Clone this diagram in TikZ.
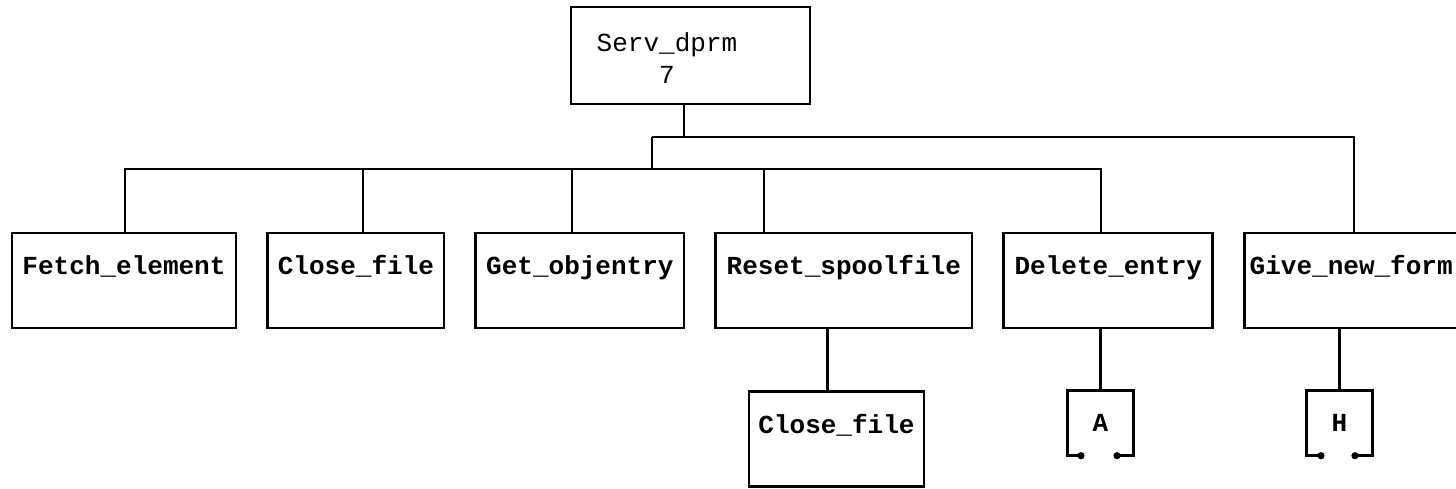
\documentclass[tikz,border=0pt]{standalone}
\usepackage{fontspec}
\setmonofont{Liberation Mono}
\usetikzlibrary{arrows.meta, positioning, calc}

\begin{document}
\begin{tikzpicture}[
    x=0.01cm, y=-0.01cm,
    node distance=0.29cm,
    box/.style={rectangle, draw, line width=0.8pt, inner xsep=0.05cm, inner ysep=0pt, text height=0.42cm, text depth=0.53cm, font=\ttfamily\bfseries\fontsize{7.4}{9}\selectfont},
    flag/.style={rectangle, minimum width=0.65cm, minimum height=0.64cm, inner sep=0pt, font=\ttfamily\bfseries\fontsize{7.4}{9}\selectfont},
    wire/.style={line width=0.7pt},
    offpage/.style={{Circle[length=0.7mm]}-{Circle[length=0.7mm]}, line width=0.8pt}
]
\useasboundingbox (0,0) rectangle (1456,489);

\node[draw, line width=0.8pt, minimum width=2.39cm, minimum height=0.97cm] (serv) at (690.5,55.5) {};
\node[font=\ttfamily\fontsize{7.4}{9.1}\selectfont, align=center] (servname) at (667,58) {Serv\_dprm\\7};

\node[box, minimum width=2.24cm] (fetch) at (124,280.5) {Fetch\_element};
\node[box, minimum width=1.76cm, right=of fetch] (closeA) {Close\_file};
\node[box, minimum width=2.08cm, right=of closeA] (getobj) {Get\_objentry};
\node[box, minimum width=2.56cm, right=of getobj] (reset) {Reset\_spoolfile};
\node[box, minimum width=2.09cm, right=of reset] (delete) {Delete\_entry};
\node[box, text width=2.23cm, align=left, right=of delete] (give) {Give\_new\_form};

\node[box, minimum width=1.75cm] (closeB) at (836.5,439) {Close\_file};
\node[flag] (abox) at (1100.5,423) {A};
\node[flag] (hbox) at (1339.5,423) {H};

\coordinate (hiL) at (652,137);
\coordinate (hiR) at (1354,137);
\coordinate (loL) at (125,169);
\coordinate (loR) at (1100,169);

\draw[wire] ($(serv.south)+(-6.5,0)$) -- ++(0,33);
\draw[wire] (hiL) -- (hiR) -- (hiR |- give.north);
\draw[wire] (hiL) -- (loL -| hiL);
\draw[wire] (loL) -- (loR);
\foreach \n/\dx in {fetch/1, closeA/7, getobj/-8, reset/-80, delete/-7.5}
  \draw[wire] ($(\n.north)+(\dx,0)$) -- ++(0,-64);

\draw[wire] ($(reset.south west)+(113,0)$) -- ++(0,63);
\draw[wire] (abox.north |- delete.south) -- (abox.north);
\draw[wire] (hbox.north |- give.south) -- (hbox.north);

\draw[offpage] ($(abox.south)+(-16,0)$) -| (abox.north west) -| (abox.south east) -- ($(abox.south)+(13,0)$);
\draw[offpage] ($(hbox.south)+(-15,0)$) -| (hbox.north west) -| (hbox.south east) -- ($(hbox.south)+(12,0)$);
\end{tikzpicture}
\end{document}
